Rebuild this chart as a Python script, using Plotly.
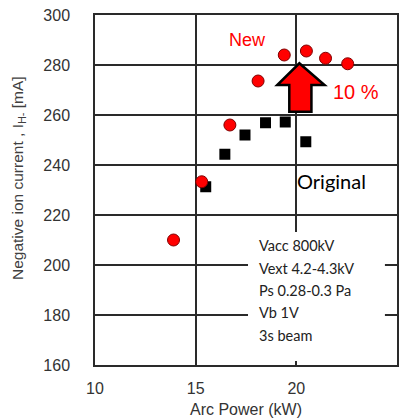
import plotly.graph_objects as go

# Data
new_power = [13.9, 15.3, 16.7, 18.1, 19.4, 20.5, 21.45, 22.55]
new_current = [210, 233.3, 256, 273.6, 284, 285.6, 282.7, 280.5]
orig_power = [15.5, 16.45, 17.45, 18.47, 19.45, 20.47]
orig_current = [231.3, 244.3, 252, 256.9, 257.2, 249.3]
x_ticks = [10, 15, 20, 25]
y_ticks = [160, 180, 200, 220, 240, 260, 280, 300]
info_lines = ["Vacc 800kV", "Vext 4.2-4.3kV", "Ps 0.28-0.3 Pa", "Vb 1V", "3s beam"]

fig = go.Figure()
fig.add_trace(go.Scatter(
    x=orig_power, y=orig_current, mode="markers", name="Original",
    marker=dict(symbol="square", size=11, color="black", line=dict(width=0)),
))
fig.add_trace(go.Scatter(
    x=new_power, y=new_current, mode="markers", name="New",
    marker=dict(symbol="circle", size=12, color="#ff0000", line=dict(width=1, color="#800000")),
))

# White box behind the conditions text (covers grid lines)
fig.add_shape(type="rect", xref="x", yref="y", x0=17.6, x1=24.4, y0=160, y1=213.2,
              fillcolor="white", line=dict(width=0), layer="between")

# Upward arrow (red fill, black outline)
arrow_path = ("M 20.15 280.7 L 21.4 272 L 20.75 272 L 20.75 261.3 "
              "L 19.65 261.3 L 19.65 272 L 19.05 272 Z")
fig.add_shape(type="path", path=arrow_path, xref="x", yref="y",
              fillcolor="#ff0000", line=dict(color="black", width=2.5), layer="above")

plot_l, plot_r, plot_t, plot_b = 95, 397, 15, 365
def px(xp):
    return (xp - plot_l) / (plot_r - plot_l)
def py(yp):
    return (plot_b - yp) / (plot_b - plot_t)

def note(xp, yp, text, font, xanchor="center", angle=0):
    fig.add_annotation(x=px(xp), y=py(yp), xref="paper", yref="paper", text=text,
                       showarrow=False, xanchor=xanchor, yanchor="middle",
                       textangle=angle, font=font)

note(247, 40, "New", dict(family="Liberation Sans, Arial", size=18, color="#ff0000"))
note(356, 92, "10 %", dict(family="Liberation Sans, Arial", size=20, color="#ff0000"))
note(295, 181, "Original", dict(family="Lato, Open Sans", size=20, color="black"), xanchor="left")
for i, line in enumerate(info_lines):
    note(257, 246 + 22.3 * i, line,
         dict(family="Lato, Open Sans", size=14.5, color="#222222"), xanchor="left")
note(18, 178, "Negative ion current , I<sub>H-</sub> [mA]",
     dict(family="Liberation Sans, Arial", size=15.5, color="#404040"), angle=-90)

axis_common = dict(
    showgrid=True, gridcolor="#2a2a2a", gridwidth=1.5,
    showline=True, linecolor="#2a2a2a", linewidth=1.5, mirror="ticks",
    ticks="inside", ticklen=4, tickcolor="#2a2a2a", tickwidth=1.5,
    zeroline=False, automargin=False,
    tickfont=dict(family="Liberation Sans, Arial", size=16, color="#333333"),
)
fig.update_xaxes(range=[10, 25], tickvals=x_ticks, ticklabelstandoff=8,
                 title=dict(text="Arc Power (kW)", standoff=8,
                            font=dict(family="Liberation Sans, Arial", size=16, color="#333333")),
                 **axis_common)
fig.update_yaxes(range=[160, 300], tickvals=y_ticks, ticklabelstandoff=20, **axis_common)

fig.update_layout(
    width=405, height=418,
    margin=dict(l=95, r=8, t=15, b=53),
    paper_bgcolor="white", plot_bgcolor="white",
    showlegend=False,
)
fig.write_html("out.html")
